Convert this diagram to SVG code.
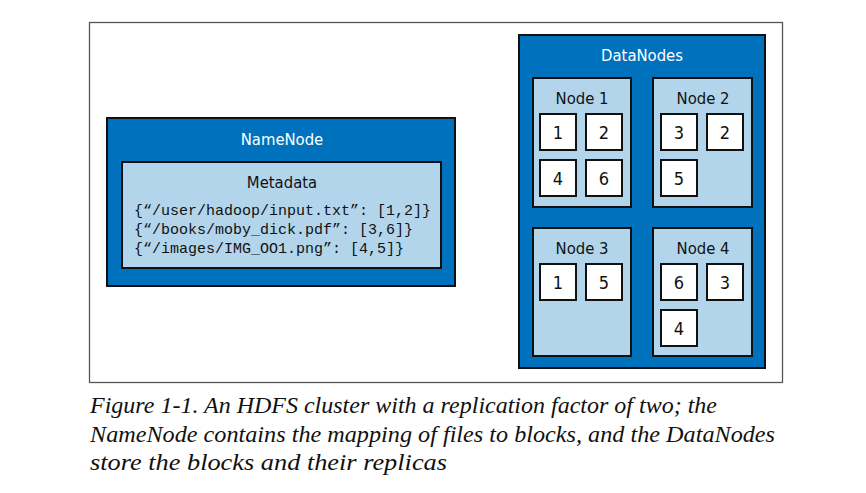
<svg xmlns="http://www.w3.org/2000/svg" width="866" height="493" viewBox="0 0 866 493">
<style>
.dark{fill:#0071BC;stroke:#111;stroke-width:2}
.light{fill:#B2D5EB;stroke:#111;stroke-width:2}
.blk{fill:#fff;stroke:#111;stroke-width:2}
.lbl{font-family:"Liberation Sans Narrow","DejaVu Sans Condensed","Liberation Sans",sans-serif;font-size:16.5px;text-anchor:middle}
.num{font-size:18px}
.w{fill:#fff}
.k{fill:#111}
.mono{font-family:"Liberation Mono","DejaVu Sans Mono",monospace;font-size:15px;fill:#111}
.cap{font-family:"Liberation Serif","Times New Roman",serif;font-style:italic;font-size:22.5px;fill:#111}
</style>
<rect x="0" y="0" width="866" height="493" fill="#fff"/>
<rect x="89.5" y="22.5" width="693" height="360" fill="#fff" stroke="#555" stroke-width="1.3"/>
<g id="namenode">
<rect class="dark" x="107" y="118" width="348" height="168"/>
<text class="lbl w" x="282" y="145">NameNode</text>
</g>
<g id="metadata">
<rect class="light" x="122" y="162" width="319" height="106"/>
<text class="lbl k" x="282" y="188">Metadata</text>
<text class="mono" x="134" y="215">{“/user/hadoop/input.txt”: [1,2]}</text>
<text class="mono" x="134" y="234">{“/books/moby_dick.pdf”: [3,6]}</text>
<text class="mono" x="134" y="253">{“/images/IMG_OO1.png”: [4,5]}</text>
</g>
<g id="datanodes">
<rect class="dark" x="519" y="35" width="246" height="333"/>
<text class="lbl w" x="642" y="61">DataNodes</text>
</g>
<g id="node1">
<rect class="light" x="533" y="78" width="98" height="129"/>
<text class="lbl k" x="582" y="104">Node 1</text>
<rect class="blk" x="540" y="114" width="36" height="36"/><text class="lbl num k" x="558" y="139">1</text>
<rect class="blk" x="586" y="114" width="36" height="36"/><text class="lbl num k" x="604" y="139">2</text>
<rect class="blk" x="540" y="160" width="36" height="36"/><text class="lbl num k" x="558" y="185">4</text>
<rect class="blk" x="586" y="160" width="36" height="36"/><text class="lbl num k" x="604" y="185">6</text>
</g>
<g id="node2">
<rect class="light" x="653" y="78" width="99" height="129"/>
<text class="lbl k" x="703" y="104">Node 2</text>
<rect class="blk" x="661" y="114" width="36" height="36"/><text class="lbl num k" x="679" y="139">3</text>
<rect class="blk" x="707" y="114" width="36" height="36"/><text class="lbl num k" x="725" y="139">2</text>
<rect class="blk" x="661" y="160" width="36" height="36"/><text class="lbl num k" x="679" y="185">5</text>
</g>
<g id="node3">
<rect class="light" x="533" y="228" width="98" height="128"/>
<text class="lbl k" x="582" y="254">Node 3</text>
<rect class="blk" x="540" y="264" width="36" height="36"/><text class="lbl num k" x="558" y="289">1</text>
<rect class="blk" x="586" y="264" width="36" height="36"/><text class="lbl num k" x="604" y="289">5</text>
</g>
<g id="node4">
<rect class="light" x="653" y="228" width="99" height="128"/>
<text class="lbl k" x="703" y="254">Node 4</text>
<rect class="blk" x="661" y="264" width="36" height="36"/><text class="lbl num k" x="679" y="289">6</text>
<rect class="blk" x="707" y="264" width="36" height="36"/><text class="lbl num k" x="725" y="289">3</text>
<rect class="blk" x="661" y="310" width="36" height="36"/><text class="lbl num k" x="679" y="335">4</text>
</g>
<g id="connectors"></g>
<g id="caption">
<text class="cap" x="90" y="413" textLength="627" lengthAdjust="spacingAndGlyphs">Figure 1-1. An HDFS cluster with a replication factor of two; the</text>
<text class="cap" x="90" y="442" textLength="685" lengthAdjust="spacingAndGlyphs">NameNode contains the mapping of files to blocks, and the DataNodes</text>
<text class="cap" x="90" y="470" textLength="357" lengthAdjust="spacingAndGlyphs">store the blocks and their replicas</text>
</g>
</svg>
